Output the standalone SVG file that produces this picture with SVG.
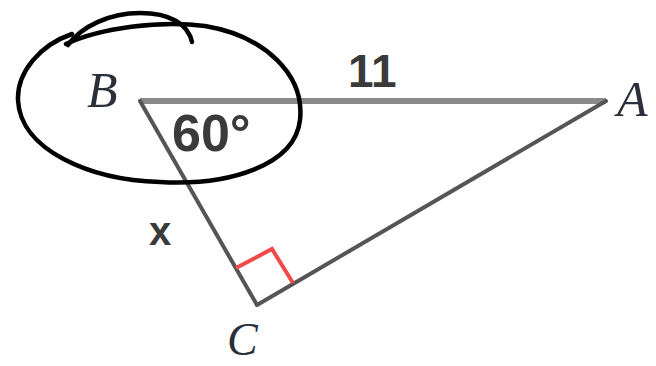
<svg xmlns="http://www.w3.org/2000/svg" width="656" height="366" viewBox="0 0 656 366">
<style>
.lbl{font-family:"Liberation Serif","Times New Roman",serif;font-style:italic;fill:#2a2f3a}
.num{font-family:"Liberation Sans",Arial,sans-serif;fill:#3a3a3a;font-weight:bold}
.side{stroke:#555;stroke-width:4;fill:none;stroke-linecap:round;stroke-linejoin:round}
</style>
<rect width="656" height="366" fill="#fff"/>
<g id="connectors">
<line x1="140" y1="101" x2="606" y2="101" stroke="#8a8a8a" stroke-width="6"/>
<line x1="140" y1="101" x2="257" y2="305" class="side"/>
<line x1="257" y1="305" x2="606" y2="101" class="side"/>
<polyline points="236,268 272,249 293,283" fill="none" stroke="#f24a4a" stroke-width="4"/>
</g>
<g id="B"><text x="87" y="107" class="lbl" font-size="50">B</text></g>
<g id="A"><text x="617" y="116" class="lbl" font-size="50">A</text></g>
<g id="C"><text x="227" y="355" class="lbl" font-size="46">C</text></g>
<g id="side-11"><text x="348" y="87" class="num" font-size="46">11</text></g>
<g id="angle"><text x="172" y="151" class="num" font-size="52">60°</text></g>
<g id="x"><text x="149" y="245" class="num" font-size="40" font-weight="normal">x</text></g>
<g id="circle-mark" fill="none" stroke="#000" stroke-width="4.5" stroke-linecap="round">
<path d="M 192,42 C 188,24 170,13 140,13 C 110,13 82,26 68,45"/>
<path d="M 66,44 C 100,28 160,20 205,26 C 265,36 305,75 300,120 C 295,165 230,186 160,182 C 90,180 20,150 18,100 C 17,72 40,45 72,34"/>
</g>
</svg>
